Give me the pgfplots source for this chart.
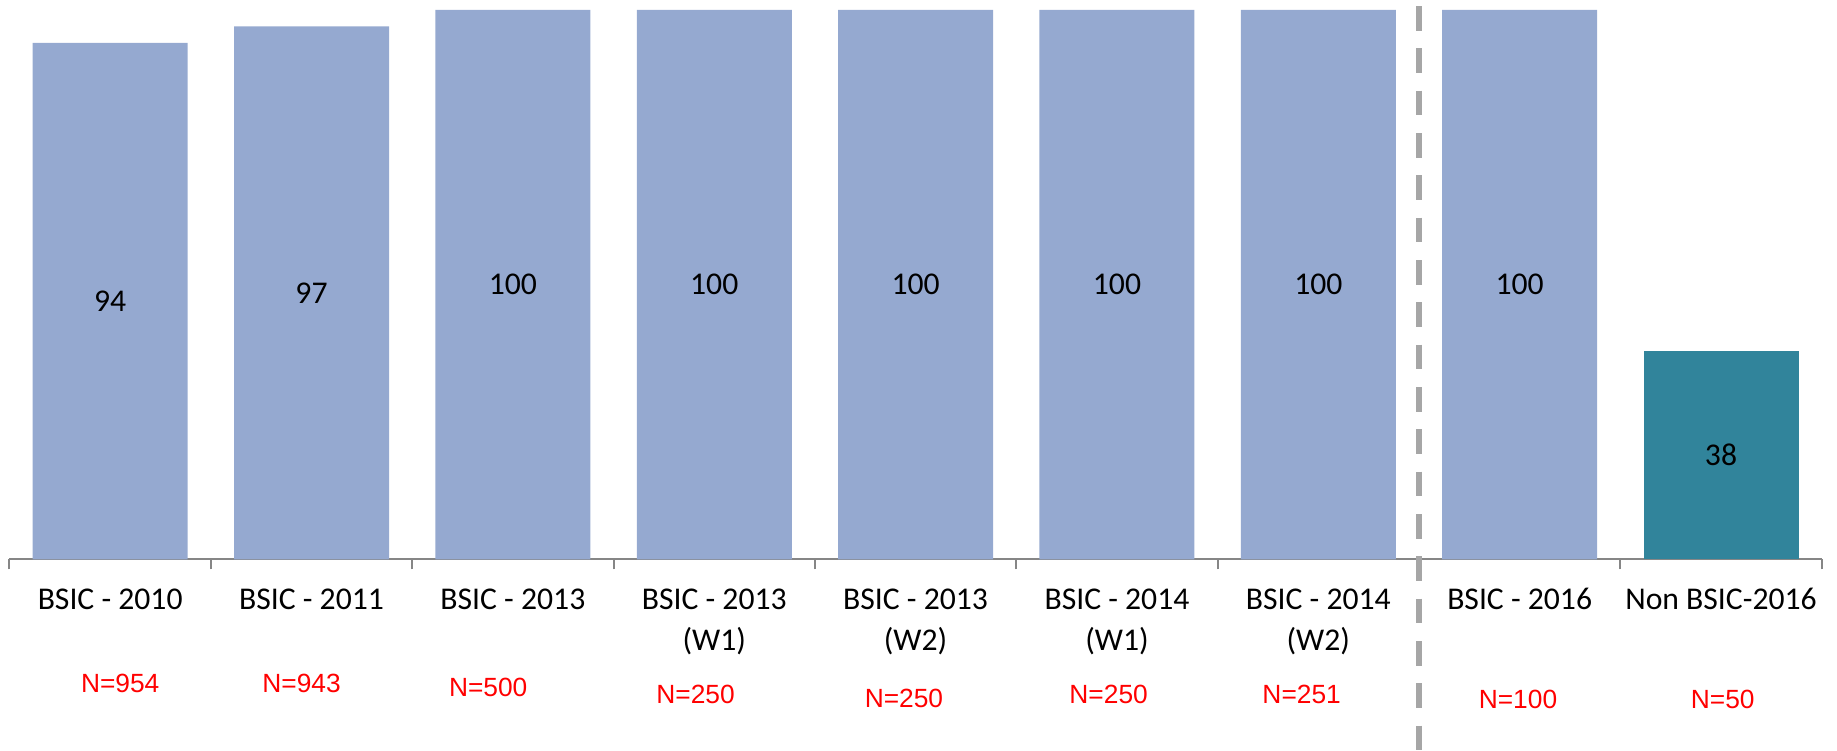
\documentclass[border=0pt]{standalone}
\usepackage{pgfplots}
\pgfplotsset{compat=1.18}
\usepackage{fontspec}
\setmainfont{Carlito}
\newfontfamily\arialf{Liberation Sans}
\definecolor{barblue}{RGB}{149,169,208}
\definecolor{barteal}{RGB}{49,132,155}
\definecolor{axgray}{RGB}{134,134,134}
\definecolor{dashgray}{RGB}{166,166,166}
\begin{document}
\begin{tikzpicture}
\begin{axis}[
  at={(0,0)}, anchor=south west,
  scale only axis, width=543.66pt, height=167.8pt,
  xmin=-0.5, xmax=8.5, ymin=0, ymax=101.8,
  axis x line*=bottom, axis y line=none,
  axis line style={axgray, line width=0.6pt},
  xtick={-0.5,0.5,1.5,2.5,3.5,4.5,5.5,6.5,7.5,8.5}, xticklabels={},
  tick align=outside, major tick length=3pt,
  tick style={axgray, line width=0.6pt},
  extra x ticks={0,1,2,3,4,5,6,7,8},
  extra x tick labels={{BSIC - 2010\\\mbox{}}, {BSIC - 2011\\\mbox{}}, {BSIC - 2013\\\mbox{}}, {BSIC - 2013\\(W1)}, {BSIC - 2013\\(W2)}, {BSIC - 2014\\(W1)}, {BSIC - 2014\\(W2)}, {BSIC - 2016\\\mbox{}}, {Non BSIC-2016\\\mbox{}}},
  extra x tick style={major tick length=0pt, tick style={draw=none},
    xticklabel style={anchor=base, align=center, yshift=-27.3pt, font=\fontsize{9.5}{12.3}\selectfont}},
  bar width=46.5pt,
  clip=false,
]
\addplot[ybar, bar shift=0pt, fill=barblue, draw=none] coordinates {(0,94) (1,97) (2,100) (3,100) (4,100) (5,100) (6,100) (7,100)};
\addplot[ybar, bar shift=0pt, fill=barteal, draw=none] coordinates {(8,38)};
% value labels
\begin{scope}[every node/.style={font=\fontsize{9.5}{12}\selectfont, anchor=center}]
\node at (axis cs:0,47) {94};
\node at (axis cs:1,48.5) {97};
\node at (axis cs:2,50) {100};
\node at (axis cs:3,50) {100};
\node at (axis cs:4,50) {100};
\node at (axis cs:5,50) {100};
\node at (axis cs:6,50) {100};
\node at (axis cs:7,50) {100};
\node at (axis cs:8,19) {38};
\end{scope}
% N labels
\begin{scope}[every node/.style={font=\arialf\fontsize{7.9}{9}\selectfont, text=red, anchor=base, inner sep=0pt}]
\node[xshift=3pt, yshift=-40pt] at (axis cs:0,0) {N=954};
\node[xshift=-3pt, yshift=-40pt] at (axis cs:1,0) {N=943};
\node[xshift=-7.4pt, yshift=-41.2pt] at (axis cs:2,0) {N=500};
\node[xshift=-5.6pt, yshift=-43.1pt] at (axis cs:3,0) {N=250};
\node[xshift=-3.5pt, yshift=-44.5pt] at (axis cs:4,0) {N=250};
\node[xshift=-2.5pt, yshift=-43.2pt] at (axis cs:5,0) {N=250};
\node[xshift=-5pt, yshift=-43.2pt] at (axis cs:6,0) {N=251};
\node[xshift=-0.5pt, yshift=-44.7pt] at (axis cs:7,0) {N=100};
\node[xshift=0.5pt, yshift=-44.7pt] at (axis cs:8,0) {N=50};
\end{scope}
\draw[dashgray, line width=1.8pt, dash pattern=on 7.4pt off 5.3pt]
  ([yshift=-1.8pt]axis cs:6.5,101.8) -- ([yshift=-57.2pt]axis cs:6.5,0);
\end{axis}
\pgfresetboundingbox
\path[use as bounding box] (-2.85pt,-57.2pt) rectangle (548.25pt,167.8pt);
\end{tikzpicture}
\end{document}
